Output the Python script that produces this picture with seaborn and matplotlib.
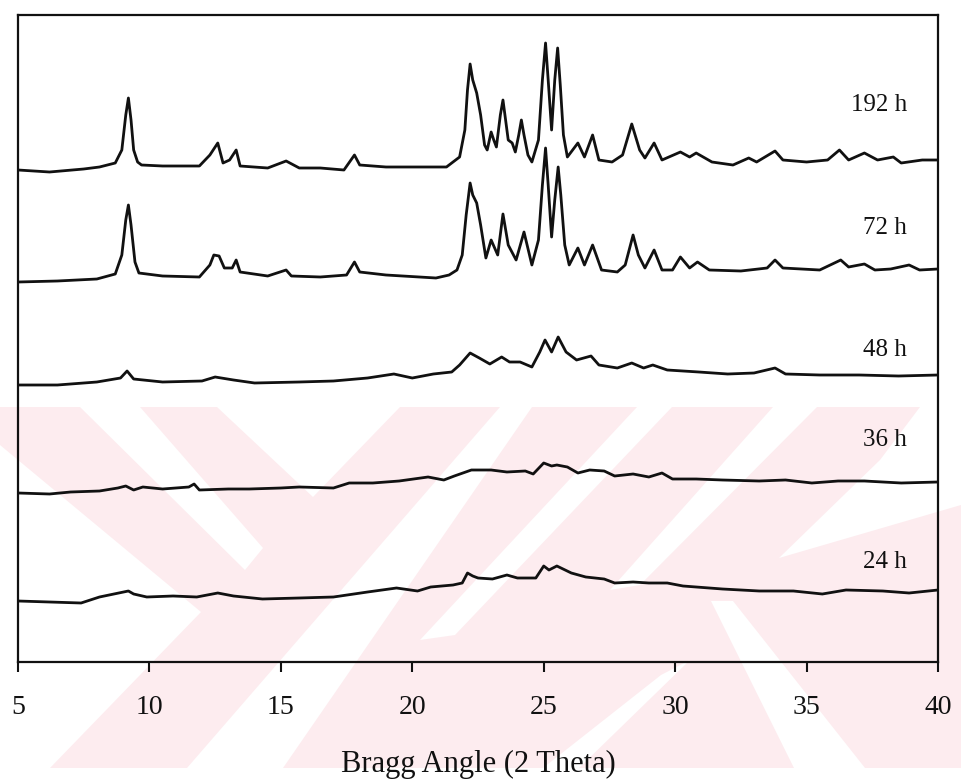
import matplotlib
matplotlib.use("Agg")
import matplotlib.pyplot as plt
from matplotlib.patches import Polygon
import numpy as np
import pandas as pd
import seaborn as sns

# ---- diffraction patterns (2-theta in degrees, stacked intensity in a.u.) ----
tt_192 = [5.0, 6.2, 7.5, 8.1, 8.7, 8.95, 9.1, 9.2, 9.3, 9.4, 9.55, 9.7, 10.5, 11.9,
          12.3, 12.6, 12.8, 13.05, 13.3, 13.45, 14.5, 15.2, 15.7, 16.5, 17.4, 17.8,
          18.0, 19.0, 21.3, 21.8, 22.0, 22.1, 22.2, 22.3, 22.45, 22.6, 22.75, 22.85,
          23.0, 23.1, 23.2, 23.35, 23.45, 23.55, 23.65, 23.8, 23.92, 24.05, 24.15,
          24.25, 24.4, 24.55, 24.8, 24.95, 25.07, 25.17, 25.3, 25.42, 25.53, 25.63,
          25.75, 25.9, 26.3, 26.55, 26.86, 27.1, 27.6, 28.0, 28.35, 28.65, 28.85,
          29.2, 29.5, 30.2, 30.55, 30.8, 31.4, 32.2, 32.8, 33.1, 33.8, 34.1, 35.0,
          35.8, 36.25, 36.6, 37.2, 37.7, 38.3, 38.6, 39.4, 40.0]
int_192 = [492, 490, 493, 495, 499, 512, 547, 564, 542, 512, 500, 497, 496, 496,
           507, 519, 499, 502, 512, 496, 494, 501, 494, 494, 492, 507,
           497, 495, 495, 505, 532, 572, 598, 582, 569, 547, 517, 512,
           530, 522, 515, 547, 562, 542, 522, 519, 510, 527, 542,
           527, 507, 500, 522, 582, 619, 582, 532, 582, 614, 577,
           527, 505, 519, 505, 527, 502, 500, 507, 538, 512, 504,
           519, 502, 510, 505, 509, 500, 497, 504, 500, 511, 502, 500,
           502, 512, 502, 509, 502, 505, 499, 502, 502]

tt_72 = [5.0, 6.5, 8.0, 8.7, 8.95, 9.1, 9.2, 9.3, 9.45, 9.6, 10.5, 11.9, 12.3, 12.45,
         12.65, 12.85, 13.15, 13.3, 13.45, 14.5, 15.2, 15.4, 16.5, 17.5, 17.8, 18.0,
         19.0, 20.9, 21.4, 21.7, 21.9, 22.05, 22.2, 22.3, 22.45, 22.6, 22.8, 23.0,
         23.25, 23.45, 23.65, 23.95, 24.25, 24.55, 24.8, 24.95, 25.07, 25.17, 25.3,
         25.42, 25.55, 25.65, 25.8, 25.97, 26.3, 26.55, 26.86, 27.2, 27.8, 28.1,
         28.4, 28.6, 28.85, 29.2, 29.5, 29.9, 30.2, 30.55, 30.85, 31.3, 32.5, 33.5,
         33.8, 34.1, 35.5, 36.3, 36.6, 37.2, 37.6, 38.2, 38.9, 39.3, 40.0]
int_72 = [380, 381, 383, 388, 407, 442, 457, 437, 400, 389, 386, 385, 397, 407,
          406, 394, 394, 402, 390, 386, 392, 386, 385, 387, 400, 390,
          387, 384, 387, 392, 407, 447, 479, 467, 459, 437, 404, 422,
          407, 448, 417, 402, 430, 397, 422, 477, 514, 477, 425,
          462, 495, 467, 417, 397, 414, 397, 417, 392, 390, 397,
          427, 407, 394, 412, 392, 392, 405, 394, 400, 392, 391, 394,
          402, 394, 392, 402, 395, 398, 392, 393, 397, 392, 393]

tt_48 = [5.0, 6.5, 8.0, 8.9, 9.15, 9.4, 10.5, 12.0, 12.5, 13.2, 14.0, 15.7, 17.0,
         18.3, 19.3, 20.0, 20.8, 21.5, 21.8, 22.2, 22.55, 22.95, 23.4, 23.7, 24.1,
         24.55, 24.85, 25.05, 25.3, 25.55, 25.85, 26.25, 26.8, 27.1, 27.8, 28.35,
         28.8, 29.15, 29.7, 30.9, 32.0, 33.0, 33.8, 34.2, 35.5, 37.0, 38.5, 40.0]
int_48 = [277, 277, 280, 284, 291, 283, 280, 281, 285, 282, 279, 280, 281,
          284, 288, 284, 288, 290, 297, 309, 304, 298, 305, 300, 300,
          295, 310, 322, 310, 325, 310, 302, 306, 297, 294, 299,
          294, 297, 292, 290, 288, 289, 294, 288, 287, 287, 286, 287]

tt_36 = [5.0, 6.2, 7.0, 8.1, 8.8, 9.1, 9.4, 9.75, 10.5, 11.5, 11.7, 11.9, 13.0,
         13.8, 15.0, 15.7, 17.0, 17.6, 18.5, 19.5, 20.6, 21.2, 21.6, 22.25, 23.0,
         23.6, 24.3, 24.6, 25.0, 25.3, 25.5, 25.9, 26.3, 26.75, 27.3, 27.7, 28.4,
         29.0, 29.5, 29.9, 30.8, 31.8, 33.2, 34.2, 35.2, 36.2, 37.2, 38.6, 40.0]
int_36 = [169, 168, 170, 171, 174, 176, 172, 175, 173, 175, 178, 172, 173,
          173, 174, 175, 174, 179, 179, 181, 185, 182, 186, 192, 192,
          190, 191, 188, 199, 196, 197, 195, 189, 192, 191, 186, 188,
          185, 189, 183, 183, 182, 181, 182, 179, 181, 181, 179, 180]

tt_24 = [5.0, 6.2, 7.4, 8.1, 9.2, 9.4, 9.9, 10.9, 11.8, 12.6, 13.2, 14.3, 15.7,
         17.0, 18.3, 19.4, 20.2, 20.7, 21.55, 21.9, 22.1, 22.3, 22.5, 23.05, 23.6,
         24.0, 24.7, 25.0, 25.2, 25.5, 26.05, 26.6, 27.3, 27.7, 28.4, 29.0, 29.7,
         30.3, 31.8, 33.2, 34.5, 35.6, 36.5, 37.9, 38.9, 40.0]
int_24 = [61, 60, 59, 65, 71, 68, 65, 66, 65, 69, 66, 63, 64,
          65, 70, 74, 71, 75, 77, 79, 89, 86, 84, 83, 87,
          84, 84, 96, 92, 96, 89, 85, 83, 79, 80, 79, 79,
          76, 73, 71, 71, 68, 72, 71, 69, 72]

sample_names = ["192 h", "72 h", "48 h", "36 h", "24 h"]
label_heights = [557, 434, 312, 222, 100]

patterns = {
    "192 h": (tt_192, int_192),
    "72 h": (tt_72, int_72),
    "48 h": (tt_48, int_48),
    "36 h": (tt_36, int_36),
    "24 h": (tt_24, int_24),
}

frames = []
for name in sample_names:
    tt, inten = patterns[name]
    frames.append(pd.DataFrame({"two_theta": tt, "intensity": inten, "sample": name}))
df = pd.concat(frames, ignore_index=True)

# ---- style ----
sns.set_theme(style="white")
plt.rcParams["font.family"] = ["Liberation Serif", "DejaVu Serif"]
plt.rcParams["axes.edgecolor"] = "#111111"

fig = plt.figure(figsize=(9.61, 7.81), dpi=100)

# light pink background motif (figure pixel coordinates)
bg = fig.add_axes([0, 0, 1, 1], zorder=0)
bg.set_xlim(0, 961)
bg.set_ylim(781, 0)
bg.axis("off")
pink = "#fdecef"
motif_pink = [
    [(0, 407), (961, 407), (961, 768), (0, 768)],
]
motif_white = [
    [(80, 407), (140, 407), (263, 548), (245, 570)],
    [(217, 407), (400, 407), (313, 497)],
    [(0, 445), (201, 612), (50, 768), (0, 768)],
    [(187, 768), (283, 768), (532, 407), (500, 407)],
    [(637, 407), (672, 407), (455, 635), (420, 640)],
    [(773, 407), (817, 407), (640, 585), (610, 590)],
    [(920, 407), (961, 407), (961, 505), (779, 558), (880, 460)],
    [(711, 601), (733, 601), (865, 768), (794, 768)],
    [(661, 675), (690, 660), (579, 768), (543, 768)],
]
for poly in motif_pink:
    bg.add_patch(Polygon(poly, closed=True, facecolor=pink, edgecolor="none"))
for poly in motif_white:
    bg.add_patch(Polygon(poly, closed=True, facecolor="white", edgecolor="none"))

# ---- main panel ----
ax = fig.add_axes([18 / 961, 1 - 662 / 781, 920 / 961, 647 / 781], zorder=1)
ax.patch.set_alpha(0)
sns.lineplot(data=df, x="two_theta", y="intensity", hue="sample",
             palette=["#111111"] * len(sample_names), hue_order=sample_names,
             estimator=None, sort=False, legend=False, linewidth=2.0, ax=ax)

for name, h in zip(sample_names, label_heights):
    ax.text(38.82, h, name, ha="right", va="center", fontsize=18, color="#111111")

ax.set_xlim(5, 40)
ax.set_ylim(0, 647)
ax.set_xticks(range(5, 41, 5))
ax.set_yticks([])
ax.tick_params(axis="x", direction="out", length=7, width=1.5, colors="#111111",
               labelsize=20, pad=17, bottom=True)
ax.set_xlabel("Bragg Angle (2 Theta)", fontsize=22, labelpad=21, color="#111111")
ax.set_ylabel("")
for s in ax.spines.values():
    s.set_visible(True)
    s.set_linewidth(1.6)
    s.set_color("#111111")

fig.savefig("out.png", dpi=100)
